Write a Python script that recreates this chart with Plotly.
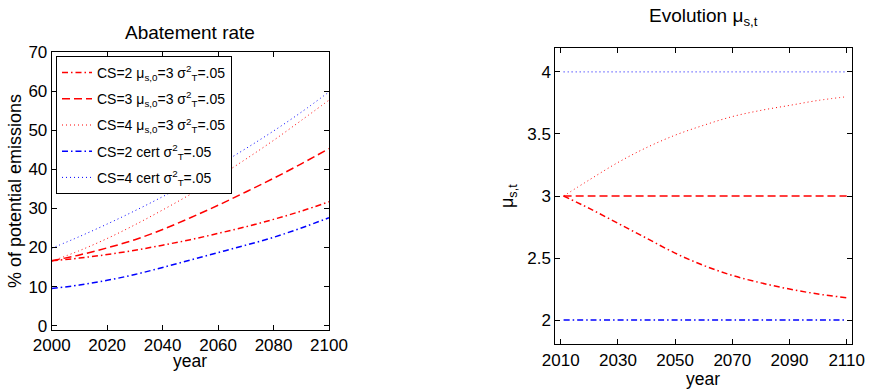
import plotly.graph_objects as go

# ---------------- data ----------------
years_left = [2000, 2010, 2020, 2030, 2040, 2050, 2060, 2070, 2080, 2090, 2100]
cs2_unc = [16.6, 17.3, 18.2, 19.3, 20.6, 22.0, 23.6, 25.3, 27.2, 29.3, 31.7]
cs3_unc = [16.6, 18.1, 19.9, 22.0, 24.6, 27.6, 30.8, 34.2, 37.7, 41.4, 45.3]
cs4_unc = [16.5, 19.2, 22.3, 25.8, 29.6, 33.6, 38.0, 42.6, 47.4, 52.5, 57.7]
cs2_cert = [9.5, 10.4, 11.6, 13.1, 14.9, 16.8, 18.7, 20.6, 22.6, 25.0, 27.6]
cs4_cert = [19.8, 22.8, 26.0, 29.4, 33.0, 36.8, 41.0, 45.3, 49.8, 54.6, 59.8]

years_right = [2011, 2020, 2030, 2040, 2050, 2060, 2070, 2080, 2090, 2100, 2110]
mu_cs2 = [3.0, 2.90, 2.78, 2.66, 2.54, 2.44, 2.36, 2.30, 2.25, 2.21, 2.18]
mu_cs3 = [3.0, 3.0, 3.0, 3.0, 3.0, 3.0, 3.0, 3.0, 3.0, 3.0, 3.0]
mu_cs4 = [3.0, 3.13, 3.27, 3.39, 3.49, 3.57, 3.64, 3.69, 3.73, 3.77, 3.80]
mu_cs2_cert = [2.0] * 11
mu_cs4_cert = [4.0] * 11

left_xticks = [2000, 2020, 2040, 2060, 2080, 2100]
left_yticks = [0, 10, 20, 30, 40, 50, 60, 70]
right_xticks = [2010, 2030, 2050, 2070, 2090, 2110]
right_yticks = [2, 2.5, 3, 3.5, 4]

names = [
    "CS=2 μ<sub>s,0</sub>=3 σ<sup>2</sup><sub>T</sub>=.05",
    "CS=3 μ<sub>s,0</sub>=3 σ<sup>2</sup><sub>T</sub>=.05",
    "CS=4 μ<sub>s,0</sub>=3 σ<sup>2</sup><sub>T</sub>=.05",
    "CS=2 cert σ<sup>2</sup><sub>T</sub>=.05",
    "CS=4 cert σ<sup>2</sup><sub>T</sub>=.05",
]

W, H = 869, 390
FONT = "Liberation Sans"

DASHDOT = "6px,3px,1.5px,3px"
DASH = "8px,4px"
DOT = "1px,3px"

styles = [
    dict(color="#ff0000", dash=DASHDOT, width=1.5),
    dict(color="#ff0000", dash=DASH, width=1.5),
    dict(color="#ff0000", dash=DOT, width=1),
    dict(color="#0000ff", dash=DASHDOT, width=1.5),
    dict(color="#0000ff", dash=DOT, width=1),
]

fig = go.Figure()

left_series = [cs2_unc, cs3_unc, cs4_unc, cs2_cert, cs4_cert]
for i, (nm, ys, st) in enumerate(zip(names, left_series, styles)):
    fig.add_trace(go.Scatter(x=years_left, y=ys, mode="lines", name=nm,
                             legendgroup=f"g{i}",
                             line=dict(shape="spline", **st),
                             xaxis="x", yaxis="y", showlegend=True))

right_series = [mu_cs2, mu_cs3, mu_cs4, mu_cs2_cert, mu_cs4_cert]
for i, (nm, ys, st) in enumerate(zip(names, right_series, styles)):
    fig.add_trace(go.Scatter(x=years_right, y=ys, mode="lines", name=nm,
                             legendgroup=f"g{i}",
                             line=dict(shape="spline", **st),
                             xaxis="x2", yaxis="y2", showlegend=False))


def px_x(p):
    return p / W


def px_y(p):
    return 1 - p / H


axis_common = dict(showgrid=False, zeroline=False, showline=True, linecolor="black",
                   linewidth=1, mirror="ticks", ticks="inside", ticklen=5,
                   automargin=False,
                   tickcolor="black", tickfont=dict(size=17, color="black", family=FONT))

fig.update_layout(
    width=W, height=H,
    margin=dict(l=0, r=0, t=0, b=0, pad=0, autoexpand=False),
    paper_bgcolor="white", plot_bgcolor="white",
    font=dict(family=FONT, color="black"),
    xaxis=dict(domain=[px_x(51.7), px_x(329)], range=[2000, 2100],
               tickvals=left_xticks, anchor="y", **axis_common),
    yaxis=dict(domain=[px_y(330), px_y(52)], range=[-1.1, 70],
               tickvals=left_yticks, anchor="x", **axis_common),
    xaxis2=dict(domain=[px_x(555.3), px_x(851.7)], range=[2008.1, 2111.75],
                tickvals=right_xticks, anchor="y2", **axis_common),
    yaxis2=dict(domain=[px_y(344.3), px_y(47.7)], range=[1.805, 4.195],
                tickvals=right_yticks, anchor="x2", **axis_common),
    legend=dict(x=px_x(56), y=px_y(56), xanchor="left", yanchor="top",
                bgcolor="white", bordercolor="black", borderwidth=1,
                font=dict(size=14, family=FONT, color="black"),
                itemwidth=30, tracegroupgap=5, traceorder="grouped"),
    showlegend=True,
)

ann = [
    dict(text="Abatement rate", x=px_x(190), y=px_y(32), size=19),
    dict(text="Evolution μ<sub>s,t</sub>", x=px_x(703), y=px_y(17), size=19),
    dict(text="year", x=px_x(190), y=px_y(361), size=17.5),
    dict(text="year", x=px_x(703), y=px_y(379), size=17.5),
    dict(text="% of potential emissions", x=px_x(15), y=px_y(191), textangle=-90, size=18),
    dict(text="μ<sub>s,t</sub>", x=px_x(508), y=px_y(196), textangle=-90, size=18),
]
for a in ann:
    fig.add_annotation(xref="paper", yref="paper", showarrow=False,
                       xanchor="center", yanchor="middle",
                       font=dict(family=FONT, color="black", size=a["size"]),
                       text=a["text"], x=a["x"], y=a["y"],
                       textangle=a.get("textangle", 0))

fig.write_html("out.html",
               config={"displayModeBar": False, "staticPlot": True},
               post_script="document.body.style.margin='0';document.body.style.overflow='hidden';")
